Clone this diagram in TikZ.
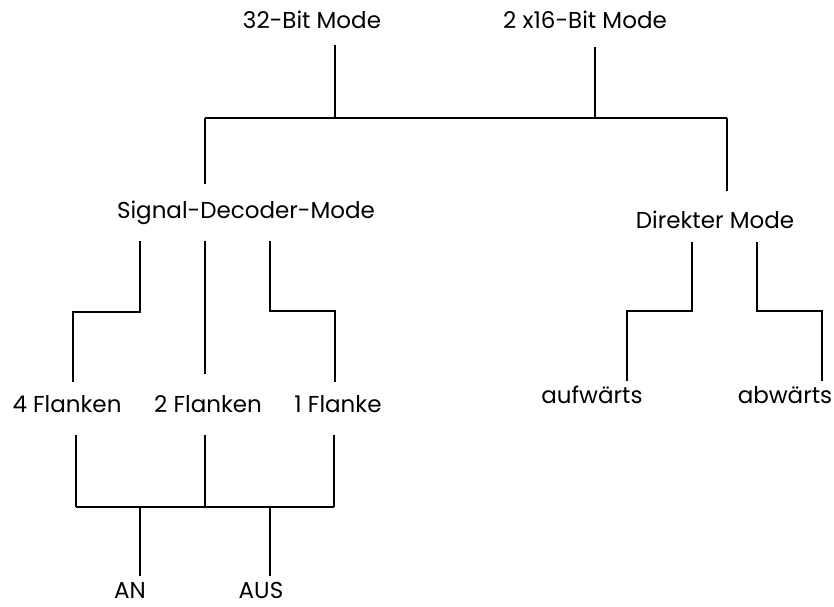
\documentclass[tikz,border=0pt]{standalone}
\usepackage{fontspec}
\setmainfont{Poppins}
\usetikzlibrary{positioning}
\newcommand{\modenode}[3]{
  \node[anchor=base,inner sep=0pt,text depth=0pt,text height=16pt] (#1) at #2 {#3};
}

\begin{document}
\begin{tikzpicture}[x=1pt,y=-1pt,line width=1.3pt,font=\fontsize{23}{27}\selectfont]
  \useasboundingbox (0,0) rectangle (834,606);
  % modes
  \modenode{m32}{(312,28)}{32-Bit Mode}
  \modenode{m16}{(585,28)}{2 x16-Bit Mode}
  \modenode{sdm}{(246,218)}{Signal-Decoder-Mode}
  \modenode{dir}{(715,228)}{Direkter Mode}
  \modenode{f4}{(67,412)}{4 Flanken}
  \modenode{f2}{(208,412)}{2 Flanken}
  \modenode{f1}{(338,412)}{1 Flanke}
  \modenode{auf}{(592,403)}{aufwärts}
  \modenode{ab}{(785,403)}{abwärts}
  \modenode{an}{(130,598)}{AN}
  \modenode{aus}{(261,598)}{AUS}
  % junctions
  \coordinate (barL) at (205,118);
  \coordinate (barR) at (727,118);
  \coordinate (j32) at (335,118);
  \coordinate (j16) at (595,118);
  \coordinate (s4) at (140,312);
  \coordinate (k4) at (73,312);
  \coordinate (s2) at (205,240);
  \coordinate (s1) at (270,311);
  \coordinate (k1) at (335,311);
  \coordinate (dA) at (692,311);
  \coordinate (kA) at (627,311);
  \coordinate (dB) at (757,311);
  \coordinate (kB) at (822,311);
  \coordinate (busL) at (76,507);
  \coordinate (busM) at (205,507);
  \coordinate (busR) at (334,507);
  \coordinate (jan) at (140,507);
  \coordinate (jaus) at (270,507);
  % top bar
  \draw[shorten <=16pt] (m32.south -| j32) -- (j32);
  \draw[shorten <=18pt] (m16.south -| j16) -- (j16);
  \draw (barL) -- (barR);
  \draw[shorten >=17pt] (barL) -- (barL |- sdm.north);
  \draw[shorten >=20pt] (barR) -- (barR |- dir.north);
  % signal decoder
  \draw[shorten <=22pt,shorten >=13pt] (sdm.south -| s4) -- (s4) -- (k4) -- (k4 |- f4.north);
  \draw[shorten <=22pt,shorten >=21pt] (sdm.south -| s2) -- (s2 |- f2.north);
  \draw[shorten <=22pt,shorten >=13pt] (sdm.south -| s1) -- (s1) -- (k1) -- (k1 |- f1.north);
  % direkter mode
  \draw[shorten <=13pt,shorten >=5pt] (dir.south -| dA) -- (dA) -- (kA) -- (kA |- auf.north);
  \draw[shorten <=13pt,shorten >=5pt] (dir.south -| dB) -- (dB) -- (kB) -- (kB |- ab.north);
  % flanks to AN / AUS
  \draw[shorten <=22pt] (f4.south -| busL) -- (busL);
  \draw[shorten <=22pt] (f2.south -| busM) -- (busM);
  \draw[shorten <=22pt] (f1.south -| busR) -- (busR);
  \draw (busL) -- (busR);
  \draw[shorten >=5pt] (jan) -- (jan |- an.north);
  \draw[shorten >=5pt] (jaus) -- (jaus |- aus.north);
\end{tikzpicture}
\end{document}
